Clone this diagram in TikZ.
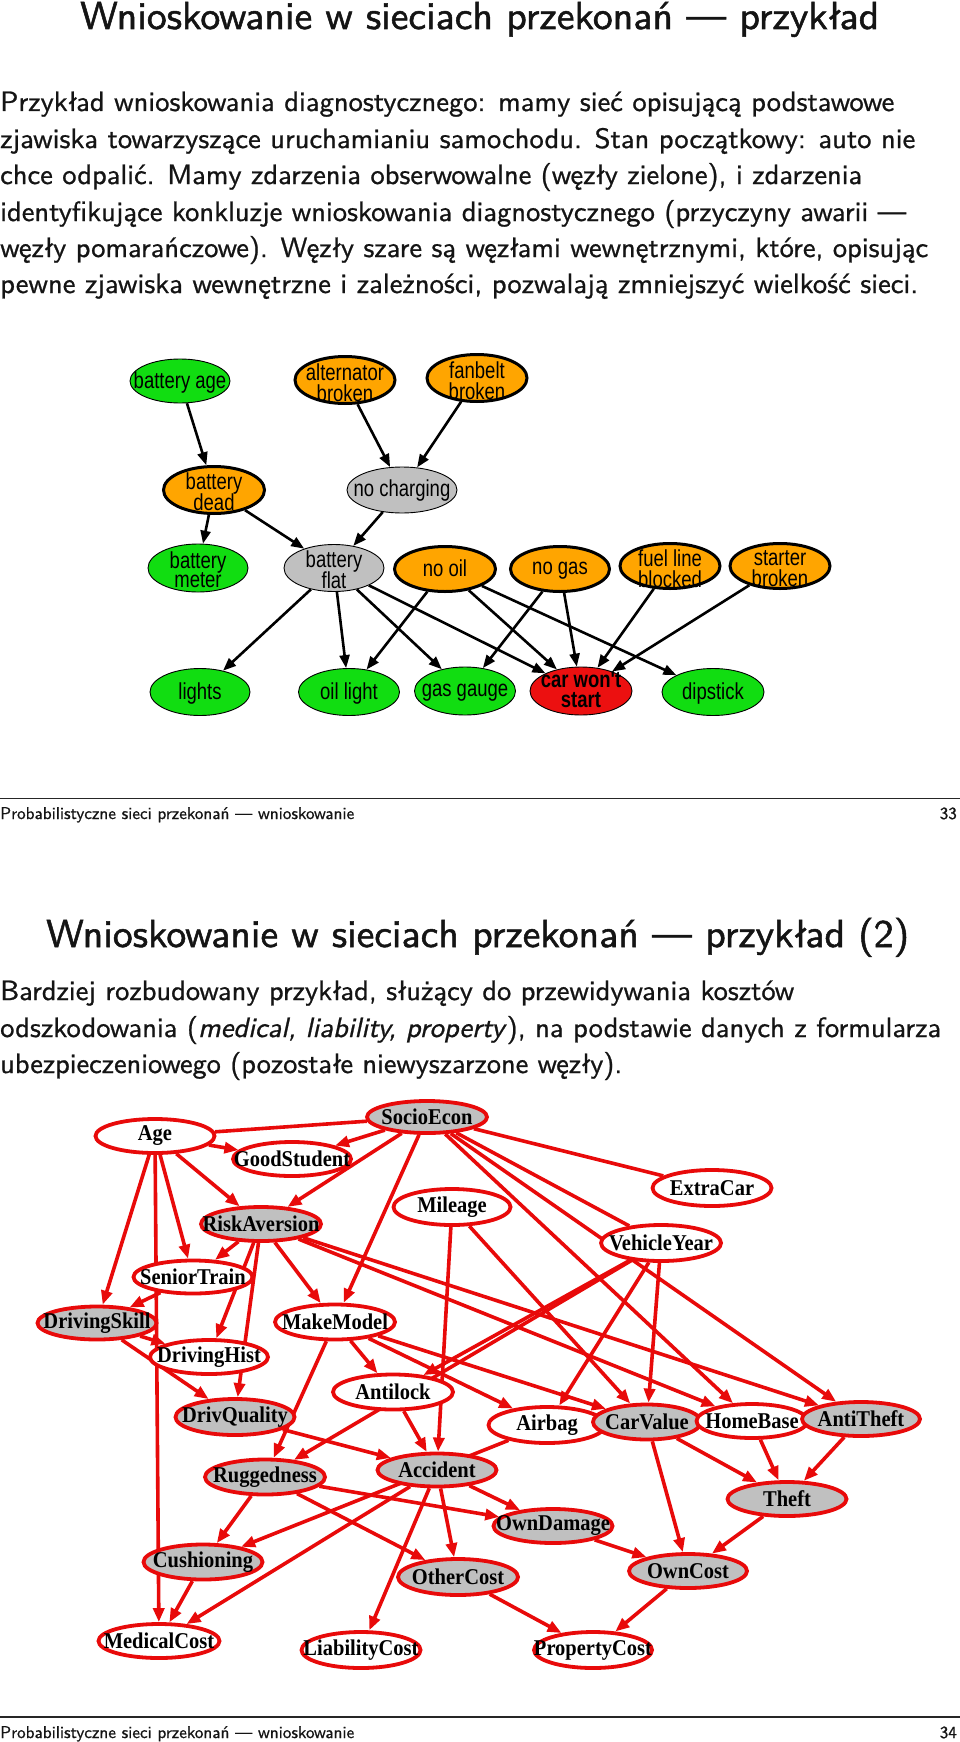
\documentclass[tikz,border=0pt]{standalone}
\usepackage{fontspec}
\usepackage{graphicx}
\usetikzlibrary{shapes.geometric,arrows.meta}
\setsansfont{lmsans10-regular.otf}[FakeBold=0.8, ItalicFont=lmsans10-oblique.otf, ItalicFeatures={FakeBold=0.8}]
\newfontfamily\ttlfont{lmsans10-regular.otf}[FakeBold=1.3]
\newfontfamily\helvf{Liberation Sans}
\newfontfamily\timesf{Liberation Serif}
\definecolor{cgreen}{RGB}{17,221,17}
\definecolor{corange}{RGB}{255,165,0}
\definecolor{cgray}{RGB}{192,192,192}
\definecolor{cred}{RGB}{236,16,16}
\definecolor{ired}{RGB}{232,10,10}
\definecolor{igray}{RGB}{192,192,192}
\definecolor{txtc}{RGB}{20,20,20}
\pgfdeclarelayer{back}
\pgfdeclarelayer{edges}
\pgfsetlayers{back,edges,main}
\newcommand\fitline[2]{\resizebox{#1}{\height}{#2}}
\newcommand\cstack[1]{\scalebox{1}[1.25]{\begin{tabular}{@{}c@{}}#1\end{tabular}}}
\newcommand\istack[1]{\scalebox{1}[1.1]{#1}}
\tikzset{
  txt/.style={anchor=base west, inner sep=0, text=txtc, font=\sffamily\fontsize{28}{33}\selectfont},
  ttl/.style={anchor=base west, inner sep=0, text=txtc, font=\ttlfont\fontsize{39}{46}\selectfont},
  foot/.style={anchor=base west, inner sep=0, text=txtc, font=\sffamily\fontsize{17}{20}\selectfont},
  footnum/.style={anchor=base east, inner sep=0, text=txtc, font=\sffamily\fontsize{17}{20}\selectfont},
  rule/.style={line width=1.6pt, draw=black!85},
  cbase/.style={ellipse, draw=black, line width=0.9pt, inner sep=0},
  cobs/.style={cbase, fill=cgreen},
  ccause/.style={cbase, fill=corange, line width=3pt},
  cint/.style={cbase, fill=cgray},
  cgoal/.style={cbase, fill=cred},
  clab/.style={font=\helvf\fontsize{18.5}{13}\selectfont, inner sep=0},
  carr/.style={draw=black, line width=2.6pt, -{Triangle[length=13pt,width=10pt]}},
  ibase/.style={ellipse, draw=ired, line width=3.8pt, inner sep=0},
  iobs/.style={ibase, fill=white},
  ihid/.style={ibase, fill=igray},
  ilab/.style={font=\timesf\bfseries\fontsize{20.5}{22}\selectfont, inner sep=0},
  iarr/.style={draw=ired, line width=3.6pt, -{Triangle[length=14pt,width=11pt]}},
  iline/.style={draw=ired, line width=3.6pt},
}
% style, name, x, y, w, h, dy, text
\newcommand\carnode[8]{%
  \node[#1, minimum width=#5pt, minimum height=#6pt] (#2) at (#3,#4) {};
  \node[clab] (#2-t) at (#3,#4+#7) {\cstack{#8}};}
% style, name, x, y, w, h, text
\newcommand\insnode[7]{%
  \node[#1, minimum width=#5pt, minimum height=#6pt] (#2) at (#3,#4) {};
  \node[ilab] (#2-t) at (#3,#4) {\istack{#7}};}
\begin{document}
\begin{tikzpicture}[x=1pt,y=-1pt]
\useasboundingbox (0,0) rectangle (960,1742);
\begin{pgfonlayer}{back}
\fill[white] (0,0) rectangle (960,1742);
\end{pgfonlayer}

% ---------------- slide 33 ----------------
\node[ttl] (title1) at (80,29) {\fitline{799pt}{Wnioskowanie w sieciach przekonań — przykład}};
\node[txt] (p1l1) at (0,111) {\fitline{894pt}{Przykład wnioskowania diagnostycznego: mamy sieć opisującą podstawowe}};
\node[txt] (p1l2) at (0,148) {\fitline{915pt}{zjawiska towarzyszące uruchamianiu samochodu. Stan początkowy: auto nie}};
\node[txt] (p1l3) at (0,184) {\fitline{862pt}{chce odpalić. Mamy zdarzenia obserwowalne (węzły zielone), i zdarzenia}};
\node[txt] (p1l4) at (0,221) {\fitline{906pt}{identyfikujące konkluzje wnioskowania diagnostycznego (przyczyny awarii —}};
\node[txt] (p1l5) at (0,257) {\fitline{928pt}{węzły pomarańczowe). Węzły szare są węzłami wewnętrznymi, które, opisując}};
\node[txt] (p1l6) at (0,293) {\fitline{918pt}{pewne zjawiska wewnętrzne i zależności, pozwalają zmniejszyć wielkość sieci.}};

\carnode{cobs}{bage}{180}{381}{100}{44}{2}{battery age}
\carnode{ccause}{alt}{345}{380}{100}{47}{5}{alternator\\broken}
\carnode{ccause}{fan}{477}{378}{100}{47}{5}{fanbelt\\broken}
\carnode{ccause}{bdead}{214}{490}{101}{47}{4}{battery\\dead}
\carnode{cint}{nocharg}{402}{490}{110}{46}{1}{no charging}
\carnode{cobs}{bmeter}{198}{568}{100}{48}{4}{battery\\meter}
\carnode{cint}{bflat}{334}{568}{100}{47}{4}{battery\\flat}
\carnode{ccause}{nooil}{445}{569}{101}{45}{2}{no oil}
\carnode{ccause}{nogas}{560}{569}{99}{45}{2}{no gas}
\carnode{ccause}{fuel}{670}{566}{100}{45}{5}{fuel line\\blocked}
\carnode{ccause}{starter}{780}{566}{100}{45}{5}{starter\\broken}
\carnode{cobs}{lights}{200}{692}{100}{47}{2}{lights}
\carnode{cobs}{oillight}{349}{692}{101}{47}{2}{oil light}
\carnode{cobs}{gasgauge}{465}{691}{101}{48}{2}{gas gauge}
\carnode{cgoal}{cws}{581}{691}{102}{48}{1}{\textbf{car won't}\\\textbf{start}}
\carnode{cobs}{dipstick}{713}{692}{102}{47}{2}{dipstick}

\begin{pgfonlayer}{edges}
\draw[carr] (bage) -- (bdead);
\draw[carr] (alt) -- (nocharg);
\draw[carr] (fan) -- (nocharg);
\draw[carr] (bdead) -- (bmeter);
\draw[carr] (bdead) -- (bflat);
\draw[carr] (nocharg) -- (bflat);
\draw[carr] (bflat) -- (lights);
\draw[carr] (bflat) -- (oillight);
\draw[carr] (bflat) -- (gasgauge);
\draw[carr] (bflat) -- (cws);
\draw[carr] (nooil) -- (oillight);
\draw[carr] (nooil) -- (cws);
\draw[carr] (nooil) -- (dipstick);
\draw[carr] (nogas) -- (gasgauge);
\draw[carr] (nogas) -- (cws);
\draw[carr] (fuel) -- (cws);
\draw[carr] (starter) -- (cws);
\end{pgfonlayer}

\coordinate (r1a) at (0,798.5);
\coordinate (r1b) at (960,798.5);
\draw[rule] (r1a) -- (r1b);
\node[foot] (foot1) at (0,819) {\fitline{354pt}{Probabilistyczne sieci przekonań — wnioskowanie}};
\node[footnum] (num1) at (957,819) {33};

% ---------------- slide 34 ----------------
\node[ttl] (title2) at (46,947) {\fitline{863pt}{Wnioskowanie w sieciach przekonań — przykład (2)}};
\node[txt] (p2l1) at (0,1000) {\fitline{794pt}{Bardziej rozbudowany przykład, służący do przewidywania kosztów}};
\node[txt] (p2l2) at (0,1037) {\fitline{941pt}{odszkodowania (\textit{medical, liability, property}\/), na podstawie danych z formularza}};
\node[txt] (p2l3) at (0,1073) {\fitline{622pt}{ubezpieczeniowego (pozostałe niewyszarzone węzły).}};

\insnode{iobs}{age}{155}{1136}{119}{34}{Age}
\insnode{ihid}{socio}{427}{1117}{120}{32}{SocioEcon}
\insnode{iobs}{good}{292}{1159}{118}{34}{GoodStudent}
\insnode{iobs}{mileage}{452}{1207}{117}{36}{Mileage}
\insnode{iobs}{extra}{712}{1188}{119}{36}{ExtraCar}
\insnode{ihid}{risk}{261}{1224}{120}{34}{RiskAversion}
\insnode{iobs}{vyear}{661}{1243}{120}{36}{VehicleYear}
\insnode{iobs}{senior}{193}{1277}{119}{33}{SeniorTrain}
\insnode{ihid}{dskill}{97}{1323}{119}{33}{DrivingSkill}
\insnode{iobs}{make}{335}{1322}{120}{35}{MakeModel}
\insnode{iobs}{dhist}{209}{1357}{118}{34}{DrivingHist}
\insnode{iobs}{antilock}{393}{1392}{120}{35}{Antilock}
\insnode{ihid}{dqual}{235}{1417}{119}{36}{DrivQuality}
\insnode{iobs}{airbag}{547}{1425}{117}{36}{Airbag}
\insnode{ihid}{carval}{647}{1422}{108}{35}{CarValue}
\insnode{iobs}{home}{752}{1421}{111}{34}{HomeBase}
\insnode{ihid}{anti}{861}{1419}{118}{34}{AntiTheft}
\insnode{ihid}{accident}{437}{1470}{119}{33}{Accident}
\insnode{ihid}{rugged}{265}{1477}{120}{35}{Ruggedness}
\insnode{ihid}{theft}{787}{1499}{119}{34}{Theft}
\insnode{ihid}{owndam}{553}{1526}{119}{34}{OwnDamage}
\insnode{ihid}{cush}{203}{1562}{119}{35}{Cushioning}
\insnode{ihid}{other}{458}{1577}{120}{36}{OtherCost}
\insnode{ihid}{owncost}{688}{1571}{118}{34}{OwnCost}
\insnode{iobs}{medical}{159}{1641}{121}{34}{MedicalCost}
\insnode{iobs}{liab}{361}{1650}{119}{36}{LiabilityCost}
\insnode{iobs}{prop}{593}{1650}{118}{36}{PropertyCost}

\begin{pgfonlayer}{edges}
\draw[iline] (age) -- (socio);
\draw[iarr] (age) -- (good);
\draw[iarr] (age) -- (risk);
\draw[iarr] (age) -- (senior);
\draw[iarr] (age) -- (dskill);
\draw[iarr] (age) -- (medical);
\draw[iarr] (socio) -- (good);
\draw[iarr] (socio) -- (risk);
\draw[iarr] (socio) -- (make);
\draw[iline] (socio) -- (extra);
\draw[iline] (socio) -- (vyear);
\draw[iarr] (socio) -- (home);
\draw[iarr] (socio) -- (anti);
\draw[iarr] (risk) -- (senior);
\draw[iarr] (risk) -- (dhist);
\draw[iarr] (risk) -- (dqual);
\draw[iarr] (risk) -- (make);
\draw[iarr] (risk) -- (home);
\draw[iarr] (risk) -- (anti);
\draw[iarr] (senior) -- (dskill);
\draw[iarr] (dskill) -- (dhist);
\draw[iarr] (dskill) -- (dqual);
\draw[iarr] (mileage) -- (accident);
\draw[iarr] (mileage) -- (carval);
\draw[iarr] (vyear) -- (antilock);
\draw[iarr] (vyear) -- (rugged);
\draw[iarr] (vyear) -- (airbag);
\draw[iarr] (vyear) -- (carval);
\draw[iarr] (make) -- (rugged);
\draw[iarr] (make) -- (antilock);
\draw[iarr] (make) -- (airbag);
\draw[iarr] (make) -- (carval);
\draw[iarr] (antilock) -- (accident);
\draw[iarr] (dqual) -- (accident);
\draw[iarr] (rugged) -- (cush);
\draw[iarr] (rugged) -- (owndam);
\draw[iarr] (rugged) -- (other);
\draw[iarr] (airbag) -- (cush);
\draw[iarr] (accident) -- (owndam);
\draw[iarr] (accident) -- (other);
\draw[iarr] (accident) -- (medical);
\draw[iarr] (accident) -- (liab);
\draw[iarr] (cush) -- (medical);
\draw[iarr] (carval) -- (theft);
\draw[iarr] (carval) -- (owncost);
\draw[iarr] (home) -- (theft);
\draw[iarr] (anti) -- (theft);
\draw[iarr] (theft) -- (owncost);
\draw[iarr] (owndam) -- (owncost);
\draw[iarr] (owncost) -- (prop);
\draw[iarr] (other) -- (prop);
\end{pgfonlayer}

\coordinate (r2a) at (0,1717);
\coordinate (r2b) at (960,1717);
\draw[rule] (r2a) -- (r2b);
\node[foot] (foot2) at (0,1738) {\fitline{354pt}{Probabilistyczne sieci przekonań — wnioskowanie}};
\node[footnum] (num2) at (957,1738) {34};
\end{tikzpicture}
\end{document}
